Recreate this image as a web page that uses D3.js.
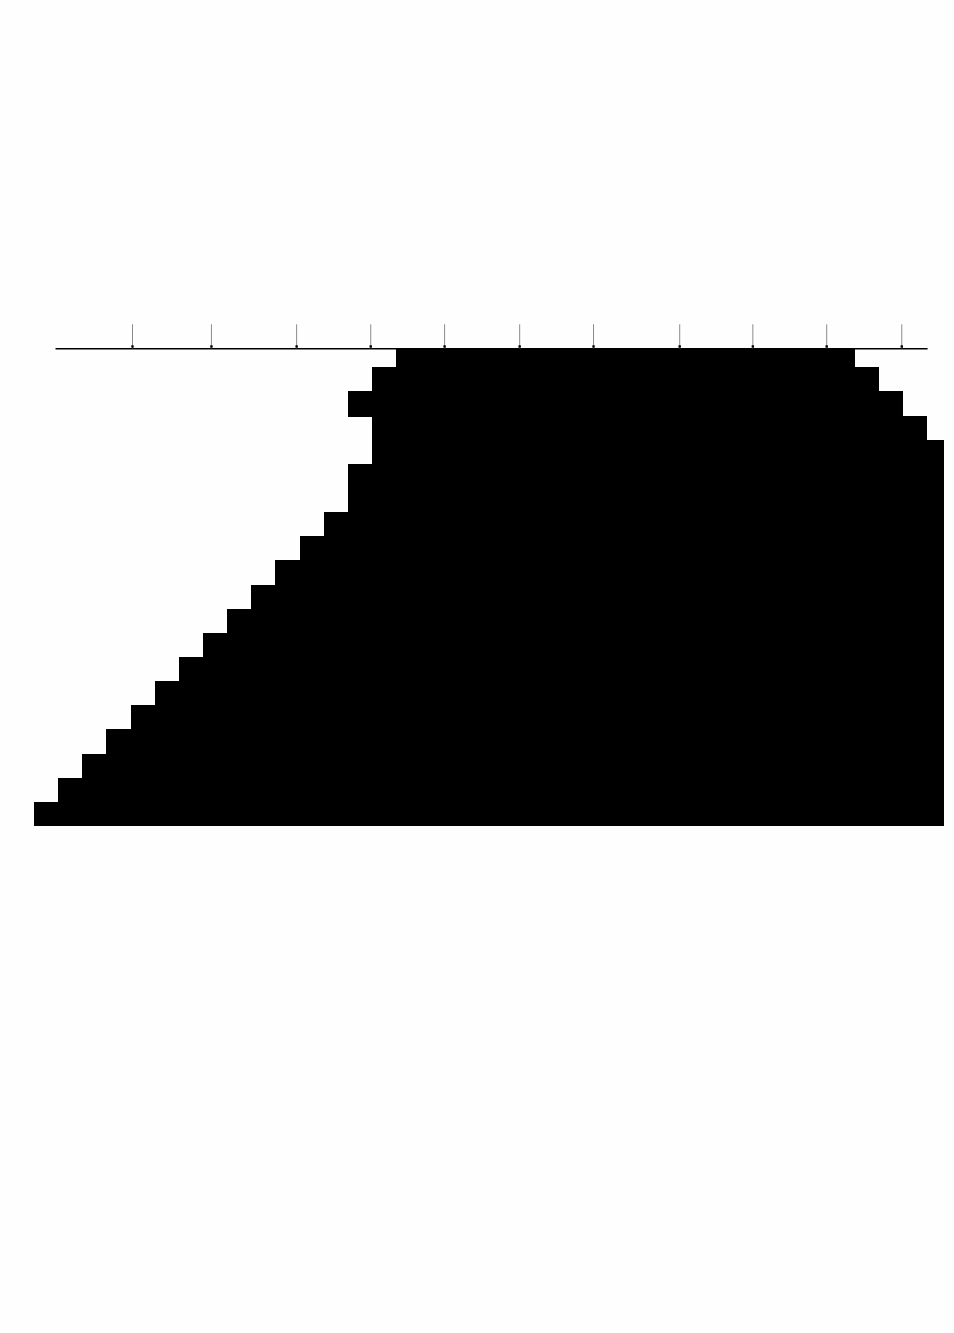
<!DOCTYPE html>
<html>
<head>
<meta charset="utf-8">
<script src="https://cdn.jsdelivr.net/npm/d3@7"></script>
<style>
  html, body { margin: 0; padding: 0; background: #fefefe; }
  svg { display: block; }
</style>
</head>
<body>
<script>
// ---- data ----
const rows   = ["1","2","3","4","5","6","7","8","9","10","11","12","13","14","15","16","17","18","19","20"];
const starts = [15, 14, 13, 14, 14, 13, 13, 12, 11, 10, 9, 8, 7, 6, 5, 4, 3, 2, 1, 0];
const ends   = [34, 35, 36, 37, 37.7, 37.7, 37.7, 37.7, 37.7, 37.7, 37.7, 37.7, 37.7, 37.7, 37.7, 37.7, 37.7, 37.7, 37.7, 37.7];
const tickValues = [4.06, 7.33, 10.86, 13.93, 16.99, 20.10, 23.16, 26.73, 29.76, 32.82, 35.93];
const axisDomain = [0.87, 37];

// ---- layout ----
const W = 954, H = 1333;
const plotLeft = 34, plotRight = 944;
const axisY = 348.3;
const rowBottom = 826, rowH = 24.14;

const svg = d3.select("body").append("svg")
  .attr("width", W).attr("height", H);

const x = d3.scaleLinear().domain([0, 37.7]).range([plotLeft, plotRight]);
const y = d3.scaleBand().domain(rows)
  .range([rowBottom - rows.length * rowH, rowBottom]).padding(0);

svg.append("defs").append("clipPath").attr("id", "plotclip")
  .append("rect")
  .attr("x", plotLeft).attr("y", axisY)
  .attr("width", plotRight - plotLeft).attr("height", rowBottom - axisY);

const data = rows.map((r, i) => ({ row: r, start: starts[i], end: ends[i] }));

svg.append("g").attr("clip-path", "url(#plotclip)")
  .selectAll("rect").data(data).join("rect")
  .attr("x", d => x(d.start))
  .attr("y", d => y(d.row))
  .attr("width", d => x(d.end) - x(d.start))
  .attr("height", y.bandwidth() + 1)
  .attr("fill", "#000")
  .attr("shape-rendering", "crispEdges");

// ---- axis on top ----
const xa = d3.scaleLinear().domain(axisDomain).range(axisDomain.map(x));
const axis = d3.axisTop(xa)
  .tickValues(tickValues)
  .tickSize(24)
  .tickSizeOuter(0)
  .tickFormat("");

const ag = svg.append("g")
  .attr("transform", `translate(0,${axisY})`)
  .call(axis);
ag.select(".domain").attr("stroke", "#000").attr("stroke-width", 1.6);
ag.selectAll(".tick line").attr("stroke", "#8a8a8a").attr("stroke-width", 1);
ag.selectAll(".tick").append("rect")
  .attr("x", -1.2).attr("y", -3).attr("width", 2.4).attr("height", 2.4)
  .attr("fill", "#000");
</script>
</body>
</html>
